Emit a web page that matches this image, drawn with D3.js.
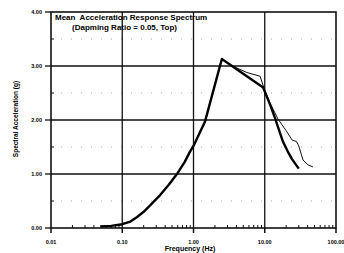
<!DOCTYPE html>
<html>
<head>
<meta charset="utf-8">
<script src="https://cdn.jsdelivr.net/npm/d3@7"></script>
<style>
  body { margin: 0; background: #fff; }
  svg { display: block; font-family: "Liberation Sans", Arial, sans-serif; font-weight: bold; }
  text { white-space: pre; }
</style>
</head>
<body>
<div id="chart"></div>
<script>
// values
var thickFreq = [0.05, 0.07, 0.1, 0.13, 0.16, 0.2, 0.26, 0.34, 0.45, 0.6, 0.75, 0.89, 1.0, 1.2, 1.45, 2.5, 9.5, 12, 13.9, 16, 18, 21, 24, 30];
var thickAcc  = [0.03, 0.04, 0.07, 0.12, 0.2, 0.3, 0.45, 0.61, 0.8, 1.02, 1.22, 1.41, 1.52, 1.74, 1.97, 3.13, 2.6, 2.27, 2.04, 1.8, 1.6, 1.42, 1.28, 1.1];

var thinFreq = [0.05, 0.07, 0.1, 0.13, 0.16, 0.2, 0.26, 0.34, 0.45, 0.6, 0.75, 0.89, 1.0, 1.2, 1.45, 2.5, 3.5, 5.6, 8.6, 10, 12, 15.3, 20, 24.2, 28, 30, 34.4, 40.5, 47.5];
var thinAcc  = [0.03, 0.04, 0.07, 0.12, 0.2, 0.3, 0.45, 0.61, 0.8, 1.02, 1.22, 1.41, 1.52, 1.74, 1.97, 3.13, 3.0, 2.88, 2.81, 2.55, 2.3, 2.02, 1.8, 1.63, 1.6, 1.52, 1.26, 1.17, 1.13];

var xTicks = [0.01, 0.1, 1, 10, 100];
var yTicks = [0, 1, 2, 3, 4];

var W = 344, H = 253;
var svg = d3.select("#chart").append("svg").attr("width", W).attr("height", H);

var x = d3.scaleLog().domain([0.01, 100]).range([51, 336]);
var y = d3.scaleLinear().domain([0, 4]).range([228, 12]);

// faint dotted half lines
svg.append("g").selectAll("line").data([0.5, 1.5, 2.5, 3.5]).join("line")
  .attr("x1", x(0.01)).attr("x2", x(100))
  .attr("y1", d => y(d)).attr("y2", d => y(d))
  .attr("stroke", "#999").attr("stroke-width", 0.8).attr("stroke-dasharray", "1,9");

// grid
svg.append("g").selectAll("line").data([1, 2, 3]).join("line")
  .attr("x1", x(0.01)).attr("x2", x(100))
  .attr("y1", d => y(d)).attr("y2", d => y(d))
  .attr("stroke", "#111").attr("stroke-width", 1.3);
svg.append("g").selectAll("line").data([0.1, 1, 10]).join("line")
  .attr("x1", d => x(d)).attr("x2", d => x(d))
  .attr("y1", y(0)).attr("y2", y(4))
  .attr("stroke", "#111").attr("stroke-width", 1.3);

// frame
svg.append("rect")
  .attr("x", x(0.01)).attr("y", y(4))
  .attr("width", x(100) - x(0.01)).attr("height", y(0) - y(4))
  .attr("fill", "none").attr("stroke", "#111").attr("stroke-width", 1.6);

// bottom axis
var minor = [];
for (var e = -2; e < 2; e++) for (var k = 2; k < 10; k++) minor.push(k * Math.pow(10, e));
svg.append("g").selectAll("line").data(minor).join("line")
  .attr("x1", d => x(d)).attr("x2", d => x(d))
  .attr("y1", y(0)).attr("y2", y(0) - 3)
  .attr("stroke", "#111").attr("stroke-width", 1);
svg.append("g").selectAll("line").data(xTicks).join("line")
  .attr("x1", d => x(d)).attr("x2", d => x(d))
  .attr("y1", y(0)).attr("y2", y(0) + 5)
  .attr("stroke", "#111").attr("stroke-width", 1.5);
svg.append("g").selectAll("text").data(xTicks).join("text")
  .attr("x", d => x(d)).attr("y", 244)
  .attr("text-anchor", "middle").attr("font-size", 5.5)
  .text(d => d.toFixed(2));

// left axis
svg.append("g").selectAll("line").data(yTicks).join("line")
  .attr("x1", x(0.01) - 6).attr("x2", x(0.01))
  .attr("y1", d => y(d)).attr("y2", d => y(d))
  .attr("stroke", "#111").attr("stroke-width", 1.3);
svg.append("g").selectAll("line").data([0.5, 1.5, 2.5, 3.5]).join("line")
  .attr("x1", x(0.01)).attr("x2", x(0.01) + 3)
  .attr("y1", d => y(d)).attr("y2", d => y(d))
  .attr("stroke", "#111").attr("stroke-width", 1);
svg.append("g").selectAll("text").data(yTicks).join("text")
  .attr("x", 42).attr("y", d => y(d) + 2)
  .attr("text-anchor", "end").attr("font-size", 5.5)
  .text(d => d.toFixed(2));

// curves
var line = d3.line().x(d => x(d[0])).y(d => y(d[1]));
svg.append("path")
  .datum(d3.zip(thinFreq, thinAcc))
  .attr("d", line).attr("fill", "none")
  .attr("stroke", "#111").attr("stroke-width", 1);
svg.append("path")
  .datum(d3.zip(thickFreq, thickAcc))
  .attr("d", line).attr("fill", "none")
  .attr("stroke", "#000").attr("stroke-width", 2.4).attr("stroke-linejoin", "round");

// titles
svg.append("text").attr("x", 55).attr("y", 20).attr("font-size", 8)
  .text("Mean  Acceleration Response Spectrum");
svg.append("text").attr("x", 72).attr("y", 30).attr("font-size", 8)
  .text("(Dapming Ratio = 0.05, Top)");

svg.append("text").attr("x", 190).attr("y", 251).attr("font-size", 7)
  .attr("text-anchor", "middle").text("Frequency (Hz)");
svg.append("text")
  .attr("transform", "translate(18,119) rotate(-90)")
  .attr("text-anchor", "middle").attr("font-size", 6.5)
  .text("Spectral Acceleration (g)");
</script>
</body>
</html>
